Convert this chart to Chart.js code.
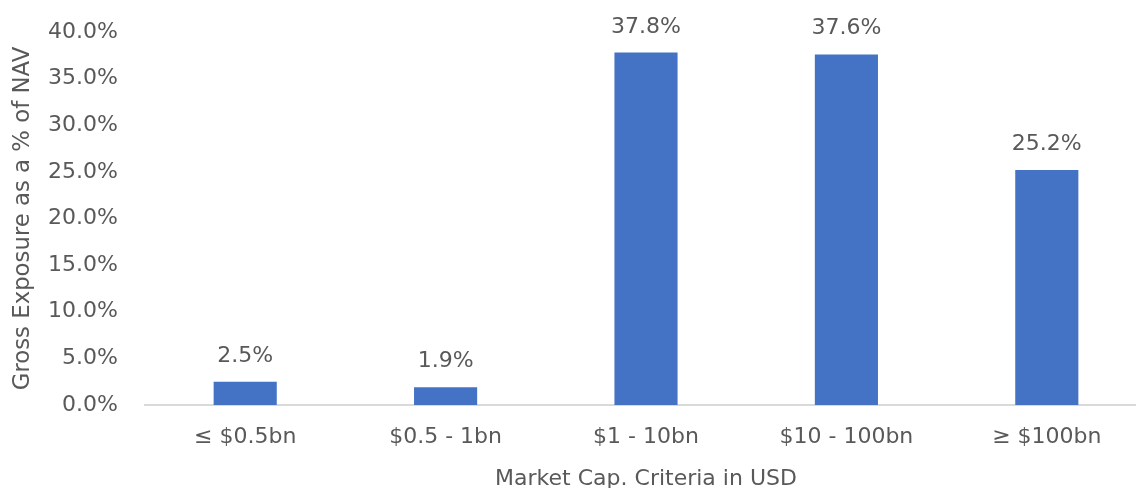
<!DOCTYPE html>
<html>
<head>
<meta charset="utf-8">
<script src="https://cdn.jsdelivr.net/npm/chart.js@4"></script>
<style>
  html, body { margin: 0; padding: 0; background: #fff; overflow: hidden; }
  #wrap { position: relative; width: 1148px; height: 500px; }
</style>
</head>
<body>
<div id="wrap"><canvas id="chart"></canvas></div>
<script>
// ─── Data ───────────────────────────────
const categories = ["≤ $0.5bn", "$0.5 - 1bn", "$1 - 10bn", "$10 - 100bn", "≥ $100bn"];
const exposure = [2.5, 1.9, 37.8, 37.6, 25.2];
const yTitle = "Gross Exposure as a % of NAV";
const xTitle = "Market Cap. Criteria in USD";

const FONT = "'DejaVu Sans', sans-serif";
const GREY = "#595959";

// ─── Value labels above bars ────────────
const barLabels = {
  id: "barLabels",
  afterDatasetsDraw(chart) {
    const ctx = chart.ctx;
    const meta = chart.getDatasetMeta(0);
    ctx.save();
    ctx.font = `22px ${FONT}`;
    ctx.fillStyle = GREY;
    ctx.textAlign = "center";
    ctx.textBaseline = "alphabetic";
    meta.data.forEach((bar, i) => {
      ctx.fillText(exposure[i].toFixed(1) + "%", bar.x, bar.y - 20);
    });
    ctx.restore();
  },
};

new Chart(document.getElementById("chart"), {
  type: "bar",
  data: {
    labels: categories,
    datasets: [{
      data: exposure,
      backgroundColor: "#4472C4",
      categoryPercentage: 1,
      barPercentage: 0.315,
    }],
  },
  options: {
    responsive: true,
    maintainAspectRatio: false,
    animation: false,
    layout: { padding: { top: 32, right: 1, bottom: 0, left: 0 } },
    plugins: { legend: { display: false }, tooltip: { enabled: false } },
    scales: {
      x: {
        grid: { display: false, drawTicks: false },
        border: { color: "#D9D9D9", width: 2 },
        ticks: { color: GREY, font: { family: FONT, size: 22 }, padding: 19, maxRotation: 0 },
        title: { display: true, text: xTitle, color: GREY, font: { family: FONT, size: 22 }, padding: { top: 0, bottom: 8 } },
        afterFit: s => { s.height = 95; s.paddingLeft = 0; s.paddingRight = 0; },
      },
      y: {
        min: 0,
        max: 40,
        grid: { display: false, drawTicks: false },
        border: { display: false },
        ticks: {
          stepSize: 5,
          color: GREY,
          font: { family: FONT, size: 22 },
          padding: 27,
          callback: v => v.toFixed(1) + "%",
        },
        title: { display: true, text: yTitle, color: GREY, font: { family: FONT, size: 22.8 }, padding: { top: 9, bottom: 0 } },
        afterFit: s => { s.width = 145; s.paddingTop = 0; s.paddingBottom = 0; },
      },
    },
  },
  plugins: [barLabels],
});
</script>
</body>
</html>
